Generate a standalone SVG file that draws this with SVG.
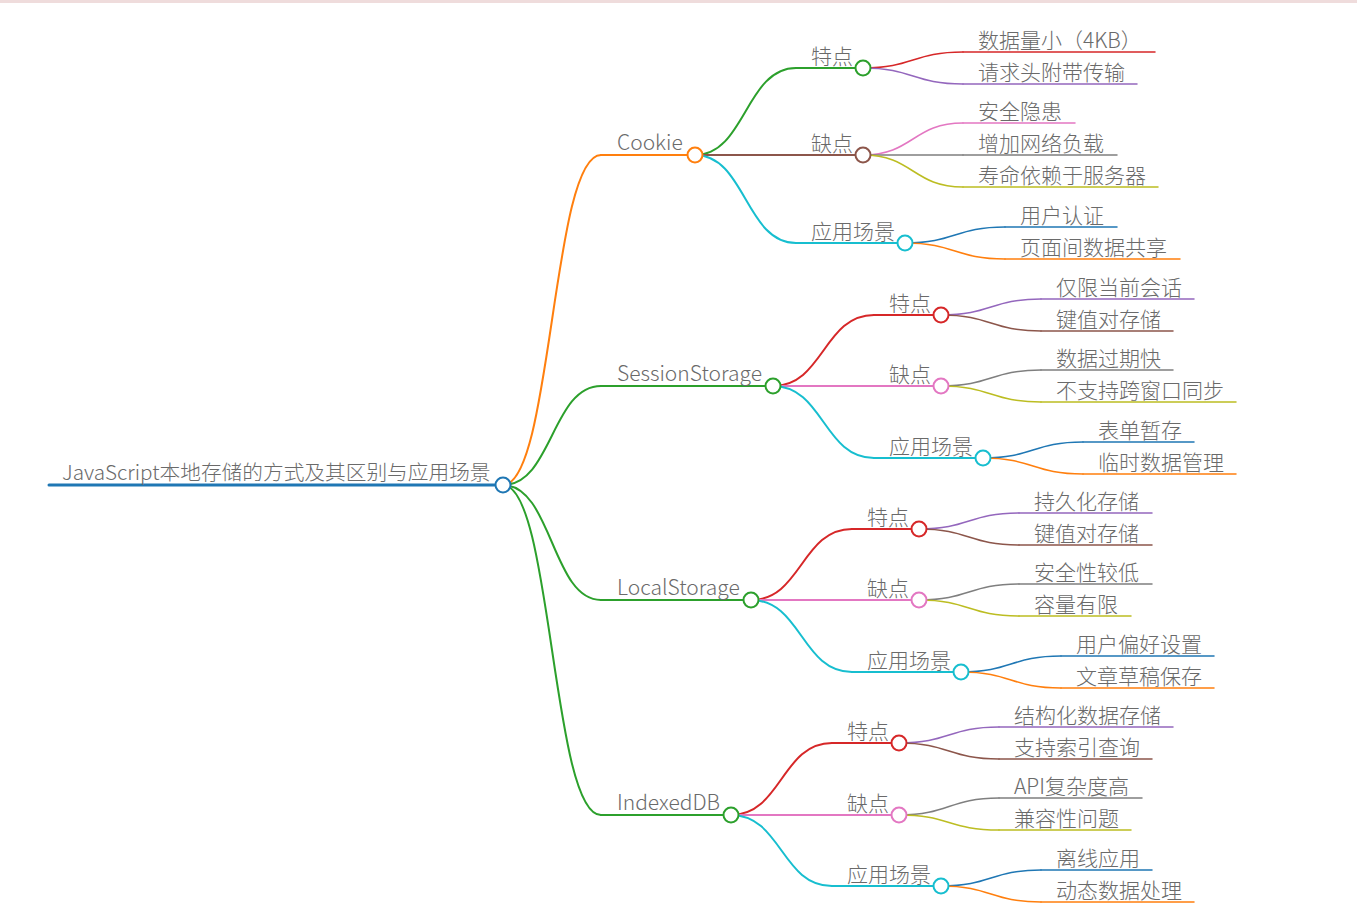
<svg xmlns="http://www.w3.org/2000/svg" width="1357" height="915" viewBox="0 0 1357 915">
  <style>
    text { font-family: "Noto Sans CJK SC", "Noto Sans", sans-serif; font-size: 21px; font-weight: 300; fill: #6a6a6a; }
    .ln { fill: none; stroke-linecap: round; }
    .d0 { stroke-width: 3; }
    .d1 { stroke-width: 2; }
    .d2 { stroke-width: 2; }
    .d3 { stroke-width: 1.5; }
    circle { fill: #fff; stroke-width: 2; }
    .blue { stroke: #1f77b4; }
    .orange { stroke: #ff7f0e; }
    .green { stroke: #2ca02c; }
    .red { stroke: #d62728; }
    .purple { stroke: #9467bd; }
    .brown { stroke: #8c564b; }
    .pink { stroke: #e377c2; }
    .gray { stroke: #7f7f7f; }
    .olive { stroke: #bcbd22; }
    .cyan { stroke: #17becf; }
  </style>

  <!-- header strip -->
  <rect x="0" y="0" width="1357" height="3" fill="#efdcdc"/>

  <!-- connectors: cubic links from a parent's knob to the start of each child's underline -->
  <g id="connectors">
    <!-- root to level 1 -->
    <path class="ln d1 orange" d="M503,485 C552,485 552,155 601,155"/>
    <path class="ln d1 green" d="M503,485 C552,485 552,386 601,386"/>
    <path class="ln d1 green" d="M503,485 C552,485 552,600 601,600"/>
    <path class="ln d1 green" d="M503,485 C552,485 552,815 601,815"/>
    <!-- Cookie -->
    <path class="ln d2 green" d="M695,155 C745.5,155 745.5,68 796,68"/>
    <path class="ln d2 brown" d="M695,155 L796,155"/>
    <path class="ln d2 cyan" d="M695,155 C745.5,155 745.5,243 796,243"/>
    <path class="ln d3 red" d="M863,68 C913,68 913,52 963,52"/>
    <path class="ln d3 purple" d="M863,68 C913,68 913,84 963,84"/>
    <path class="ln d3 pink" d="M863,155 C913,155 913,123 963,123"/>
    <path class="ln d3 gray" d="M863,155 L963,155"/>
    <path class="ln d3 olive" d="M863,155 C913,155 913,187 963,187"/>
    <path class="ln d3 blue" d="M905,243 C955,243 955,227 1005,227"/>
    <path class="ln d3 orange" d="M905,243 C955,243 955,259 1005,259"/>
    <!-- SessionStorage -->
    <path class="ln d2 red" d="M773,386 C823.5,386 823.5,315 874,315"/>
    <path class="ln d2 pink" d="M773,386 L874,386"/>
    <path class="ln d2 cyan" d="M773,386 C823.5,386 823.5,458 874,458"/>
    <path class="ln d3 purple" d="M941,315 C991,315 991,299 1041,299"/>
    <path class="ln d3 brown" d="M941,315 C991,315 991,331 1041,331"/>
    <path class="ln d3 gray" d="M941,386 C991,386 991,370 1041,370"/>
    <path class="ln d3 olive" d="M941,386 C991,386 991,402 1041,402"/>
    <path class="ln d3 blue" d="M983,458 C1033,458 1033,442 1083,442"/>
    <path class="ln d3 orange" d="M983,458 C1033,458 1033,474 1083,474"/>
    <!-- LocalStorage -->
    <path class="ln d2 red" d="M751,600 C801.5,600 801.5,529 852,529"/>
    <path class="ln d2 pink" d="M751,600 L852,600"/>
    <path class="ln d2 cyan" d="M751,600 C801.5,600 801.5,672 852,672"/>
    <path class="ln d3 purple" d="M919,529 C969,529 969,513 1019,513"/>
    <path class="ln d3 brown" d="M919,529 C969,529 969,545 1019,545"/>
    <path class="ln d3 gray" d="M919,600 C969,600 969,584 1019,584"/>
    <path class="ln d3 olive" d="M919,600 C969,600 969,616 1019,616"/>
    <path class="ln d3 blue" d="M961,672 C1011,672 1011,656 1061,656"/>
    <path class="ln d3 orange" d="M961,672 C1011,672 1011,688 1061,688"/>
    <!-- IndexedDB -->
    <path class="ln d2 red" d="M731,815 C781.5,815 781.5,743 832,743"/>
    <path class="ln d2 pink" d="M731,815 L832,815"/>
    <path class="ln d2 cyan" d="M731,815 C781.5,815 781.5,886 832,886"/>
    <path class="ln d3 purple" d="M899,743 C949,743 949,727 999,727"/>
    <path class="ln d3 brown" d="M899,743 C949,743 949,759 999,759"/>
    <path class="ln d3 gray" d="M899,815 C949,815 949,798 999,798"/>
    <path class="ln d3 olive" d="M899,815 C949,815 949,830 999,830"/>
    <path class="ln d3 blue" d="M941,886 C991,886 991,870 1041,870"/>
    <path class="ln d3 orange" d="M941,886 C991,886 991,902 1041,902"/>
  </g>

  <!-- root -->
  <g id="root">
    <path class="ln d0 blue" d="M49,485 H503"/>
    <text x="62" y="479.5" style="font-size:20.7px">JavaScript本地存储的方式及其区别与应用场景</text>
    <circle class="blue" cx="503" cy="485" r="7.5"/>
  </g>

  <!-- Cookie branch -->
  <g id="cookie">
    <path class="ln d1 orange" d="M601,155 H695"/>
    <text x="617" y="149.5">Cookie</text>
    <circle class="orange" cx="695" cy="155" r="7.5"/>
  </g>
  <g id="cookie-features">
    <path class="ln d2 green" d="M796,68 H863"/>
    <text x="811" y="63.5">特点</text>
    <circle class="green" cx="863" cy="68" r="7.5"/>
  </g>
  <g id="cookie-f1"><path class="ln d3 red" d="M963,52 H1155"/><text x="978" y="47.5">数据量小（4KB）</text></g>
  <g id="cookie-f2"><path class="ln d3 purple" d="M963,84 H1137"/><text x="978" y="79.5">请求头附带传输</text></g>
  <g id="cookie-cons">
    <path class="ln d2 brown" d="M796,155 H863"/>
    <text x="811" y="150.5">缺点</text>
    <circle class="brown" cx="863" cy="155" r="7.5"/>
  </g>
  <g id="cookie-c1"><path class="ln d3 pink" d="M963,123 H1075"/><text x="978" y="118.5">安全隐患</text></g>
  <g id="cookie-c2"><path class="ln d3 gray" d="M963,155 H1117"/><text x="978" y="150.5">增加网络负载</text></g>
  <g id="cookie-c3"><path class="ln d3 olive" d="M963,187 H1158"/><text x="978" y="182.5">寿命依赖于服务器</text></g>
  <g id="cookie-uses">
    <path class="ln d2 cyan" d="M796,243 H905"/>
    <text x="811" y="238.5">应用场景</text>
    <circle class="cyan" cx="905" cy="243" r="7.5"/>
  </g>
  <g id="cookie-u1"><path class="ln d3 blue" d="M1005,227 H1117"/><text x="1020" y="222.5">用户认证</text></g>
  <g id="cookie-u2"><path class="ln d3 orange" d="M1005,259 H1180"/><text x="1020" y="254.5">页面间数据共享</text></g>

  <!-- SessionStorage branch -->
  <g id="session">
    <path class="ln d1 green" d="M601,386 H773"/>
    <text x="617" y="380.5">SessionStorage</text>
    <circle class="green" cx="773" cy="386" r="7.5"/>
  </g>
  <g id="session-features">
    <path class="ln d2 red" d="M874,315 H941"/>
    <text x="889" y="310.5">特点</text>
    <circle class="red" cx="941" cy="315" r="7.5"/>
  </g>
  <g id="session-f1"><path class="ln d3 purple" d="M1041,299 H1194"/><text x="1056" y="294.5">仅限当前会话</text></g>
  <g id="session-f2"><path class="ln d3 brown" d="M1041,331 H1173"/><text x="1056" y="326.5">键值对存储</text></g>
  <g id="session-cons">
    <path class="ln d2 pink" d="M874,386 H941"/>
    <text x="889" y="381.5">缺点</text>
    <circle class="pink" cx="941" cy="386" r="7.5"/>
  </g>
  <g id="session-c1"><path class="ln d3 gray" d="M1041,370 H1173"/><text x="1056" y="365.5">数据过期快</text></g>
  <g id="session-c2"><path class="ln d3 olive" d="M1041,402 H1236"/><text x="1056" y="397.5">不支持跨窗口同步</text></g>
  <g id="session-uses">
    <path class="ln d2 cyan" d="M874,458 H983"/>
    <text x="889" y="453.5">应用场景</text>
    <circle class="cyan" cx="983" cy="458" r="7.5"/>
  </g>
  <g id="session-u1"><path class="ln d3 blue" d="M1083,442 H1194"/><text x="1098" y="437.5">表单暂存</text></g>
  <g id="session-u2"><path class="ln d3 orange" d="M1083,474 H1236"/><text x="1098" y="469.5">临时数据管理</text></g>

  <!-- LocalStorage branch -->
  <g id="local">
    <path class="ln d1 green" d="M601,600 H751"/>
    <text x="617" y="594.5">LocalStorage</text>
    <circle class="green" cx="751" cy="600" r="7.5"/>
  </g>
  <g id="local-features">
    <path class="ln d2 red" d="M852,529 H919"/>
    <text x="867" y="524.5">特点</text>
    <circle class="red" cx="919" cy="529" r="7.5"/>
  </g>
  <g id="local-f1"><path class="ln d3 purple" d="M1019,513 H1152"/><text x="1034" y="508.5">持久化存储</text></g>
  <g id="local-f2"><path class="ln d3 brown" d="M1019,545 H1152"/><text x="1034" y="540.5">键值对存储</text></g>
  <g id="local-cons">
    <path class="ln d2 pink" d="M852,600 H919"/>
    <text x="867" y="595.5">缺点</text>
    <circle class="pink" cx="919" cy="600" r="7.5"/>
  </g>
  <g id="local-c1"><path class="ln d3 gray" d="M1019,584 H1152"/><text x="1034" y="579.5">安全性较低</text></g>
  <g id="local-c2"><path class="ln d3 olive" d="M1019,616 H1131"/><text x="1034" y="611.5">容量有限</text></g>
  <g id="local-uses">
    <path class="ln d2 cyan" d="M852,672 H961"/>
    <text x="867" y="667.5">应用场景</text>
    <circle class="cyan" cx="961" cy="672" r="7.5"/>
  </g>
  <g id="local-u1"><path class="ln d3 blue" d="M1061,656 H1214"/><text x="1076" y="651.5">用户偏好设置</text></g>
  <g id="local-u2"><path class="ln d3 orange" d="M1061,688 H1214"/><text x="1076" y="683.5">文章草稿保存</text></g>

  <!-- IndexedDB branch -->
  <g id="indexeddb">
    <path class="ln d1 green" d="M601,815 H731"/>
    <text x="617" y="809.5">IndexedDB</text>
    <circle class="green" cx="731" cy="815" r="7.5"/>
  </g>
  <g id="indexeddb-features">
    <path class="ln d2 red" d="M832,743 H899"/>
    <text x="847" y="738.5">特点</text>
    <circle class="red" cx="899" cy="743" r="7.5"/>
  </g>
  <g id="indexeddb-f1"><path class="ln d3 purple" d="M999,727 H1173"/><text x="1014" y="722.5">结构化数据存储</text></g>
  <g id="indexeddb-f2"><path class="ln d3 brown" d="M999,759 H1152"/><text x="1014" y="754.5">支持索引查询</text></g>
  <g id="indexeddb-cons">
    <path class="ln d2 pink" d="M832,815 H899"/>
    <text x="847" y="810.5">缺点</text>
    <circle class="pink" cx="899" cy="815" r="7.5"/>
  </g>
  <g id="indexeddb-c1"><path class="ln d3 gray" d="M999,798 H1142"/><text x="1014" y="793.5">API复杂度高</text></g>
  <g id="indexeddb-c2"><path class="ln d3 olive" d="M999,830 H1131"/><text x="1014" y="825.5">兼容性问题</text></g>
  <g id="indexeddb-uses">
    <path class="ln d2 cyan" d="M832,886 H941"/>
    <text x="847" y="881.5">应用场景</text>
    <circle class="cyan" cx="941" cy="886" r="7.5"/>
  </g>
  <g id="indexeddb-u1"><path class="ln d3 blue" d="M1041,870 H1152"/><text x="1056" y="865.5">离线应用</text></g>
  <g id="indexeddb-u2"><path class="ln d3 orange" d="M1041,902 H1194"/><text x="1056" y="897.5">动态数据处理</text></g>
</svg>
